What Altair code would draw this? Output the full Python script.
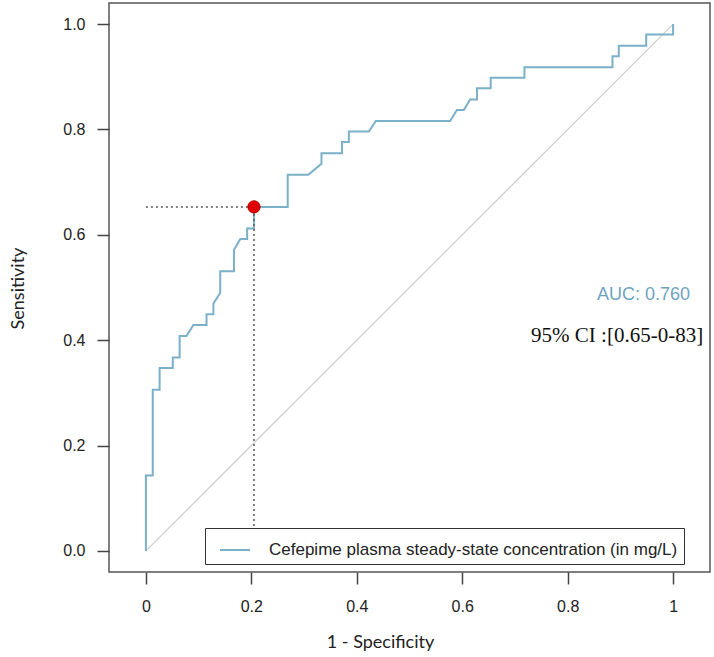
import altair as alt
import pandas as pd

# ROC curve points (1 - specificity, sensitivity)
fpr = [0.0, 0.0, 0.013, 0.013, 0.026, 0.026, 0.051, 0.051, 0.064, 0.064, 0.077, 0.090,
       0.115, 0.115, 0.128, 0.128, 0.141, 0.141, 0.167, 0.167, 0.179, 0.192, 0.192,
       0.205, 0.205, 0.269, 0.269, 0.308, 0.333, 0.333, 0.372, 0.372, 0.385, 0.385,
       0.423, 0.436, 0.577, 0.590, 0.603, 0.615, 0.628, 0.628, 0.654, 0.654, 0.718,
       0.718, 0.885, 0.885, 0.897, 0.897, 0.949, 0.949, 1.0, 1.0]
sens = [0.0, 0.143, 0.143, 0.306, 0.306, 0.347, 0.347, 0.367, 0.367, 0.408, 0.408, 0.429,
        0.429, 0.449, 0.449, 0.469, 0.490, 0.531, 0.531, 0.571, 0.592, 0.592, 0.612,
        0.612, 0.653, 0.653, 0.714, 0.714, 0.735, 0.755, 0.755, 0.776, 0.776, 0.796,
        0.796, 0.816, 0.816, 0.837, 0.837, 0.857, 0.857, 0.878, 0.878, 0.898, 0.898,
        0.918, 0.918, 0.939, 0.939, 0.959, 0.959, 0.980, 0.980, 1.0]

cut_fpr = 0.205
cut_sens = 0.653

diag_x = [0.0, 1.0]
diag_y = [0.0, 1.0]

x_ticks = [0, 0.2, 0.4, 0.6, 0.8, 1]
y_ticks = [0.0, 0.2, 0.4, 0.6, 0.8, 1.0]

legend_label = "Cefepime plasma steady-state concentration (in mg/L)"
auc_text = "AUC: 0.760"
ci_text = "95% CI :[0.65-0-83]"

roc = pd.DataFrame({"fpr": fpr, "sens": sens, "order": list(range(len(fpr))),
                    "series": [legend_label] * len(fpr)})
diag = pd.DataFrame({"fpr": diag_x, "sens": diag_y})
guides = pd.DataFrame({"fpr": [0.0, cut_fpr], "fpr2": [cut_fpr, cut_fpr],
                       "sens": [cut_sens, 0.0], "sens2": [cut_sens, cut_sens]})
cut = pd.DataFrame({"fpr": [cut_fpr], "sens": [cut_sens]})
auc_df = pd.DataFrame({"fpr": [1.032], "sens": [0.486], "label": [auc_text]})
ci_df = pd.DataFrame({"fpr": [1.057], "sens": [0.408], "label": [ci_text]})

xs = alt.Scale(domain=[-0.07, 1.07], nice=False, zero=False)
ys = alt.Scale(domain=[-0.04, 1.04], nice=False, zero=False)

x_axis = alt.Axis(values=x_ticks, format="~g", grid=False, domain=False,
                  tickSize=12, tickColor="#444", tickWidth=1.5,
                  labelFont="Liberation Sans", labelFontSize=16, labelColor="#222",
                  labelPadding=14, labelFlush=False,
                  titleFont="Lato", titleFontSize=18, titleFontWeight="normal",
                  titleColor="#222", titleX=271, titleY=75,
                  titleBaseline="alphabetic", titleAnchor="start", titleAlign="center")
y_axis = alt.Axis(values=y_ticks, format=".1f", grid=False, domain=False,
                  tickSize=12, tickColor="#444", tickWidth=1.5,
                  labelFont="Liberation Sans", labelFontSize=16, labelColor="#222",
                  labelPadding=12, labelFlush=False,
                  titleFont="Lato", titleFontSize=18, titleFontWeight="normal",
                  titleColor="#222", titleX=-86, titleY=285, titleAngle=270,
                  titleBaseline="alphabetic", titleAlign="center", titleAnchor="start")

X = lambda f: alt.X(f"{f}:Q", scale=xs, axis=x_axis, title="1 - Specificity")
Y = lambda f: alt.Y(f"{f}:Q", scale=ys, axis=y_axis, title="Sensitivity")

diag_layer = alt.Chart(diag).mark_line(color="#cccccc", strokeWidth=1.2).encode(
    x=X("fpr"), y=Y("sens"))

curve = alt.Chart(roc).mark_line(strokeWidth=2, interpolate="linear").encode(
    x=X("fpr"), y=Y("sens"), order=alt.Order("order:Q"),
    color=alt.Color("series:N", scale=alt.Scale(range=["#7ab0c8"]),
                    legend=alt.Legend(orient="none", legendX=96, legendY=525, title=None,
                                      symbolType="stroke", symbolSize=900,
                                      symbolStrokeWidth=2, symbolOffset=8,
                                      labelFont="Liberation Sans", labelFontSize=17,
                                      labelColor="#222", labelLimit=1000, labelOffset=18,
                                      labelExpr="datum.label + '\u2003\u2003'",
                                      padding=6, fillColor="white",
                                      strokeColor="#333")))

guide_layer = alt.Chart(guides).mark_rule(color="#555555", strokeWidth=1.5,
                                          strokeDash=[2, 3]).encode(
    x=X("fpr"), x2="fpr2", y=Y("sens"), y2="sens2")

dot = alt.Chart(cut).mark_point(filled=True, shape="circle", size=150, color="#e00000",
                                stroke="#b00000", strokeWidth=1, opacity=1).encode(
    x=X("fpr"), y=Y("sens"))

auc_layer = alt.Chart(auc_df).mark_text(align="right", baseline="middle",
                                        font="Liberation Sans", fontSize=18,
                                        color="#6fa3bf").encode(
    x=X("fpr"), y=Y("sens"), text="label:N")

ci_layer = alt.Chart(ci_df).mark_text(align="right", baseline="middle",
                                      font="Liberation Serif", fontSize=21,
                                      color="#111").encode(
    x=X("fpr"), y=Y("sens"), text="label:N")

chart = alt.layer(diag_layer, curve, guide_layer, dot, auc_layer, ci_layer).properties(
    width=601, height=569,
    autosize=alt.AutoSizeParams(type="none"),
    padding={"left": 109, "top": 3, "right": 4, "bottom": 85},
    background="white",
).configure_view(stroke="#555555", strokeWidth=1.5)

chart.save("out.html", embed_options={"renderer": "svg", "actions": False})
